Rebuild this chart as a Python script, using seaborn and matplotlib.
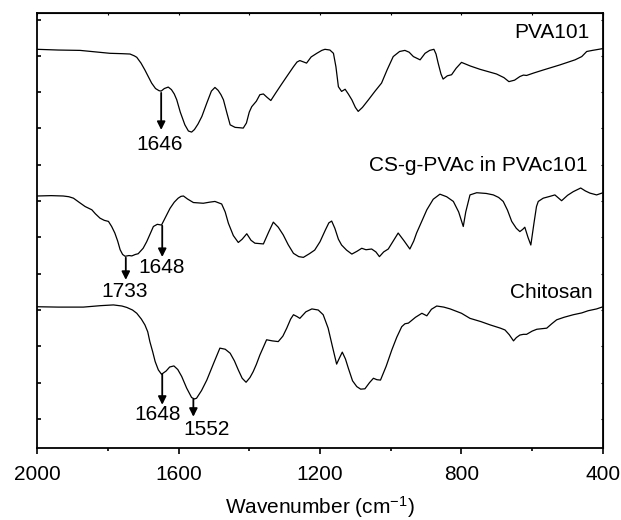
import numpy as np
import pandas as pd
import matplotlib
matplotlib.use("Agg")
import matplotlib.pyplot as plt
import seaborn as sns

# spectra (wavenumber, offset transmittance in a.u.)
pva_wn = [2000, 1940, 1878, 1794, 1760, 1737, 1725, 1718, 1706, 1695, 1685, 1676,
          1665, 1655, 1649, 1640, 1629, 1620, 1612, 1605, 1595, 1582, 1572, 1563,
          1555, 1545, 1534, 1520, 1507, 1497, 1488, 1480, 1473, 1463, 1454, 1440,
          1427, 1417, 1408, 1400, 1393, 1380, 1370, 1360, 1350, 1339, 1325, 1310,
          1294, 1275, 1265, 1257, 1246, 1238, 1225, 1209, 1195, 1186, 1172, 1162,
          1155, 1148, 1139, 1129, 1120, 1110, 1100, 1092, 1080, 1063, 1045, 1026,
          1010, 993, 975, 960, 948, 936, 917, 903, 890, 878, 872, 866, 858, 852,
          840, 828, 815, 800, 775, 748, 701, 680, 666, 650, 635, 625, 616, 595,
          569, 522, 479, 460, 446, 430, 418, 400]
pva_t = [10.18, 10.16, 10.15, 10.07, 10.06, 10.05, 10.00, 9.96, 9.80, 9.61, 9.42, 9.25,
         9.10, 9.04, 9.03, 9.10, 9.14, 9.07, 8.95, 8.79, 8.45, 8.10, 7.93, 7.90,
         7.97, 8.12, 8.33, 8.70, 9.03, 9.13, 9.05, 8.93, 8.79, 8.42, 8.10, 8.03,
         8.02, 8.01, 8.15, 8.45, 8.60, 8.75, 8.93, 8.95, 8.86, 8.77, 8.98, 9.20,
         9.43, 9.70, 9.83, 9.87, 9.83, 9.80, 9.97, 10.07, 10.15, 10.18, 10.16, 10.07,
         9.70, 9.15, 9.02, 9.08, 8.95, 8.79, 8.58, 8.47, 8.58, 8.79, 9.02, 9.25,
         9.62, 9.98, 10.12, 10.15, 10.10, 9.98, 9.89, 10.07, 10.15, 10.18, 10.05, 9.80,
         9.50, 9.36, 9.45, 9.48, 9.66, 9.82, 9.72, 9.63, 9.50, 9.40, 9.29, 9.33,
         9.43, 9.47, 9.46, 9.53, 9.61, 9.75, 9.89, 9.98, 10.12, 10.15, 10.17, 10.20]

graft_wn = [2000, 1960, 1926, 1910, 1897, 1880, 1864, 1845, 1835, 1822, 1810, 1798,
            1789, 1780, 1772, 1765, 1758, 1751, 1740, 1732, 1722, 1714, 1700, 1690,
            1680, 1671, 1660, 1648, 1636, 1624, 1612, 1601, 1593, 1586, 1575, 1558,
            1530, 1512, 1497, 1478, 1468, 1459, 1445, 1431, 1420, 1407, 1395, 1384,
            1360, 1345, 1332, 1318, 1304, 1290, 1275, 1260, 1247, 1230, 1215, 1200,
            1185, 1175, 1167, 1158, 1148, 1139, 1125, 1110, 1095, 1082, 1070, 1054,
            1042, 1032, 1020, 1007, 993, 979, 962, 946, 935, 927, 912, 898, 880, 861,
            842, 823, 808, 795, 788, 776, 757, 730, 710, 695, 682, 670, 658, 645,
            635, 627, 621, 612, 604, 595, 588, 583, 569, 550, 536, 517, 500, 484,
            463, 450, 437, 418, 400]
graft_t = [6.14, 6.15, 6.14, 6.12, 6.08, 5.96, 5.85, 5.76, 5.65, 5.53, 5.47, 5.44,
           5.30, 5.12, 4.90, 4.66, 4.53, 4.48, 4.50, 4.49, 4.53, 4.55, 4.70, 4.88,
           5.10, 5.30, 5.36, 5.34, 5.57, 5.80, 5.97, 6.08, 6.13, 6.14, 6.06, 5.96,
           5.94, 5.97, 5.99, 5.92, 5.70, 5.39, 5.05, 4.86, 4.95, 5.10, 4.92, 4.84,
           4.82, 5.15, 5.42, 5.28, 5.07, 4.80, 4.56, 4.47, 4.45, 4.55, 4.65, 4.88,
           5.20, 5.40, 5.45, 5.25, 4.95, 4.79, 4.65, 4.54, 4.62, 4.70, 4.66, 4.68,
           4.60, 4.47, 4.60, 4.68, 4.90, 5.12, 4.90, 4.68, 4.90, 5.12, 5.45, 5.76, 6.05, 6.19,
           6.12, 5.99, 5.70, 5.30, 5.70, 6.17, 6.23, 6.21, 6.17, 6.10, 5.99, 5.75, 5.44, 5.25,
           5.16, 5.22, 5.28, 5.00, 4.79, 5.40, 5.85, 5.99, 6.08, 6.13, 6.17, 6.01, 6.16, 6.26,
           6.36, 6.28, 6.22, 6.17, 6.23]

cs_wn = [2000, 1940, 1869, 1820, 1784, 1760, 1746, 1730, 1718, 1705, 1695, 1687,
         1681, 1673, 1666, 1657, 1648, 1635, 1625, 1613, 1602, 1591, 1577, 1563,
         1555, 1549, 1535, 1520, 1500, 1483, 1468, 1454, 1442, 1431, 1420, 1409,
         1398, 1389, 1380, 1370, 1360, 1351, 1335, 1318, 1305, 1294, 1283, 1275,
         1265, 1257, 1240, 1223, 1205, 1191, 1177, 1165, 1153, 1145, 1137, 1128,
         1120, 1108, 1096, 1085, 1073, 1060, 1049, 1039, 1029, 1013, 997, 983, 969,
         960, 950, 930, 912, 898, 885, 870, 850, 832, 800, 776, 745, 719, 690, 677,
         665, 653, 645, 635, 625, 616, 600, 587, 559, 545, 531, 510, 484, 460, 442,
         418, 400]
cs_t = [3.09, 3.08, 3.08, 3.12, 3.14, 3.11, 3.07, 3.00, 2.91, 2.75, 2.59, 2.40,
        2.13, 1.85, 1.58, 1.35, 1.23, 1.32, 1.43, 1.46, 1.36, 1.17, 0.85, 0.59,
        0.55, 0.57, 0.78, 1.07, 1.55, 1.95, 1.92, 1.81, 1.60, 1.35, 1.12, 1.01,
        1.14, 1.30, 1.50, 1.76, 1.98, 2.18, 2.15, 2.13, 2.28, 2.50, 2.75, 2.87,
        2.82, 2.77, 2.95, 3.03, 3.00, 2.87, 2.50, 2.00, 1.51, 1.68, 1.84, 1.65,
        1.40, 1.05, 0.89, 0.82, 0.83, 1.00, 1.12, 1.08, 1.07, 1.45, 1.90, 2.25, 2.54,
        2.62, 2.64, 2.80, 2.91, 2.84, 3.02, 3.11, 3.08, 3.03, 2.91, 2.77, 2.68, 2.59, 2.50, 2.45,
        2.32, 2.15, 2.24, 2.31, 2.33, 2.33, 2.42, 2.47, 2.50, 2.62, 2.73, 2.80, 2.87, 2.92, 2.98,
        3.03, 3.09]

sample_names = ["PVA101", "CS-g-PVAc in PVAc101", "Chitosan"]

# peak markers: label, arrow x, arrow start/end, label position
peak_labels = ["1646", "1733", "1648", "1648", "1552"]
peak_x = [1649, 1749, 1646, 1646, 1558]
peak_from = [8.98, 4.44, 5.32, 1.24, 0.55]
peak_to = [7.96, 3.83, 4.46, 0.39, 0.06]
label_x = [1652, 1751, 1647, 1658, 1520]
label_y = [7.55, 3.51, 4.16, 0.11, -0.30]

name_x = [437, 445, 428]
name_y = [10.63, 6.97, 3.47]

df = pd.concat([
    pd.DataFrame({"wn": pva_wn, "T": pva_t, "sample": sample_names[0]}),
    pd.DataFrame({"wn": graft_wn, "T": graft_t, "sample": sample_names[1]}),
    pd.DataFrame({"wn": cs_wn, "T": cs_t, "sample": sample_names[2]}),
])

sns.set_style("ticks")
plt.rcParams["font.family"] = ["Liberation Sans", "DejaVu Sans"]
plt.rcParams["mathtext.fontset"] = "custom"
plt.rcParams["mathtext.rm"] = "Liberation Sans"
plt.rcParams["mathtext.it"] = "Liberation Sans"
plt.rcParams["text.color"] = "black"
plt.rcParams["axes.labelcolor"] = "black"
plt.rcParams["axes.edgecolor"] = "black"
plt.rcParams["xtick.color"] = "black"
plt.rcParams["ytick.color"] = "black"

fig = plt.figure(figsize=(6.21, 5.2), dpi=100)
ax = fig.add_axes([0.0596, 0.1385, 0.9114, 0.8365])

sns.lineplot(data=df, x="wn", y="T", hue="sample", units="sample", estimator=None,
             sort=False, palette=["black"] * 3, legend=False, lw=0.9, ax=ax)
for ln in ax.get_lines():
    ln.set_solid_joinstyle("round")

for lab, x, y0, y1, tx, ty in zip(peak_labels, peak_x, peak_from, peak_to, label_x, label_y):
    ax.annotate("", xy=(x, y1), xytext=(x, y0),
                arrowprops=dict(arrowstyle="-|>", color="black", lw=1.3,
                                mutation_scale=12, shrinkA=0, shrinkB=0))
    ax.text(tx, ty, lab, ha="center", va="center", fontsize=15)

for name, x, y in zip(sample_names, name_x, name_y):
    ax.text(x, y, name, ha="right", va="center", fontsize=15)

ax.set_xlim(2000, 400)
ax.set_ylim(-0.80, 11.18)
ax.set_xticks([2000, 1600, 1200, 800, 400])
ax.set_xticks([1800, 1400, 1000, 600], minor=True)
ax.set_yticks(np.arange(0, 12))
ax.set_yticklabels([])
ax.tick_params(axis="x", which="major", direction="out", length=4.2, width=1.2,
               labelsize=15, pad=8)
ax.tick_params(axis="x", which="minor", direction="out", length=2.5, width=1.2)
ax.tick_params(axis="y", direction="in", length=3, width=1.2)
for s in ax.spines.values():
    s.set_linewidth(1.3)

top = ax.secondary_xaxis("top")
top.set_xticks([2000, 1800, 1600, 1400, 1200, 1000, 800, 600, 400])
top.tick_params(direction="in", length=1.5, width=0.8, labeltop=False)
right = ax.secondary_yaxis("right")
right.set_yticks(np.arange(0, 12))
right.tick_params(direction="in", length=1.5, width=0.8, labelright=False)

ax.set_xlabel("Wavenumber (cm$^{-1}$)", fontsize=15, labelpad=7)
ax.set_ylabel("")

fig.savefig("out.png", dpi=100)
